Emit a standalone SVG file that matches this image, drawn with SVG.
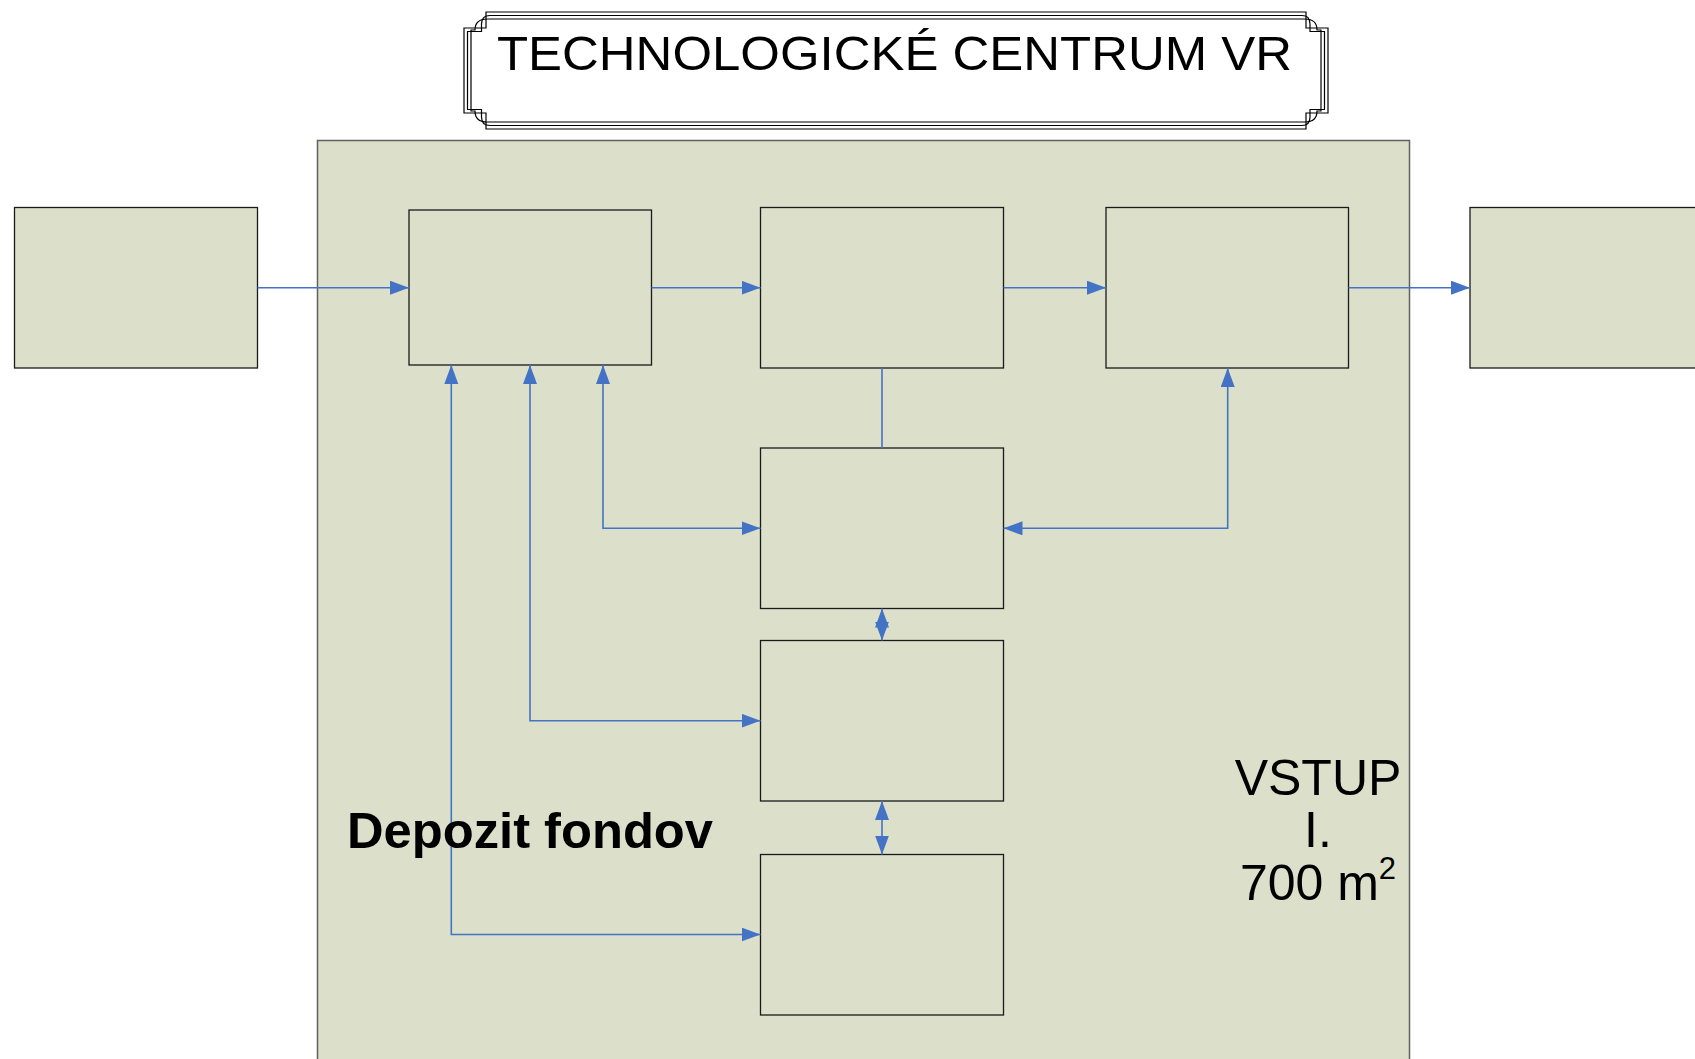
<svg xmlns="http://www.w3.org/2000/svg" width="1695" height="1059" viewBox="0 0 1695 1059">
  <style>
    .box { fill: #DCE0CA; stroke: #1a1a1a; stroke-width: 1.3; }
    .cont { fill: #DCE0CA; stroke: #606060; stroke-width: 1.5; }
    .con { fill: none; stroke: #4472C4; stroke-width: 1.6; }
    .frm { fill: none; stroke: #000; stroke-width: 1.2; }
    .t { font-family: "Liberation Sans", Arial, sans-serif; fill: #000; }
  </style>
  <defs>
    <marker id="ah" markerUnits="userSpaceOnUse" markerWidth="20" markerHeight="15" refX="19" refY="7" orient="auto-start-reverse" viewBox="0 0 20 15">
      <path d="M0,0 L19,7 L0,14 Z" fill="#4472C4"/>
    </marker>
  </defs>
  <rect width="1695" height="1059" fill="#ffffff"/>

  <g id="container">
    <rect class="cont" x="317.5" y="140.5" width="1092" height="940"/>
  </g>

  <g id="title">
    <path d="M486,12 H1306 V28 H1328 V113 H1306 V129 H486 V113 H464 V28 H486 Z" fill="#ffffff" stroke="none"/>
    <path class="frm" d="M486,12 H1306 V28 H1328 V113 H1306 V129 H486 V113 H464 V28 H486 Z"/>
    <path class="frm" d="M490,15.5 H1302 Q1310,15.5 1310,24 L1310,31.5 H1324.5 V109.5 H1310 V117 Q1310,125.5 1302,125.5 H490 Q481.5,125.5 481.5,117 V109.5 H467.5 V31.5 H481.5 V24 Q481.5,15.5 490,15.5 Z"/>
    <path class="frm" d="M487,19 H1305 Q1317,19 1317,30 L1321,30 V111 H1317 Q1317,122 1305,122 H487 Q475,122 475,111 H471 V30 H475 Q475,19 487,19 Z"/>
    <text class="t" x="497" y="70" font-size="49" textLength="795" lengthAdjust="spacingAndGlyphs">TECHNOLOGICKÉ CENTRUM VR</text>
  </g>

  <g id="boxL"><rect class="box" x="14.5" y="207.5" width="243" height="160.5"/></g>
  <g id="box1"><rect class="box" x="409" y="210" width="242.5" height="155"/></g>
  <g id="box2"><rect class="box" x="760.5" y="207.5" width="243" height="160.5"/></g>
  <g id="box3"><rect class="box" x="1106" y="207.5" width="242.5" height="160.5"/></g>
  <g id="boxR"><rect class="box" x="1470" y="207.5" width="240" height="160.5"/></g>
  <g id="box4"><rect class="box" x="760.5" y="448" width="243" height="160.5"/></g>
  <g id="box5"><rect class="box" x="760.5" y="640.5" width="243" height="160.5"/></g>
  <g id="box6"><rect class="box" x="760.5" y="854.5" width="243" height="160.5"/></g>

  <g id="connectors">
    <path class="con" d="M257.5,287.7 H409" marker-end="url(#ah)"/>
    <path class="con" d="M651.5,287.7 H760.5" marker-end="url(#ah)"/>
    <path class="con" d="M1003.5,287.7 H1106" marker-end="url(#ah)"/>
    <path class="con" d="M1348.5,287.7 H1470" marker-end="url(#ah)"/>
    <path class="con" d="M882,368 V448"/>
    <path class="con" d="M760.5,528.3 H603 V365" marker-start="url(#ah)" marker-end="url(#ah)"/>
    <path class="con" d="M1003.5,528.3 H1227.7 V368" marker-start="url(#ah)" marker-end="url(#ah)"/>
    <path class="con" d="M760.5,720.7 H530 V365" marker-start="url(#ah)" marker-end="url(#ah)"/>
    <path class="con" d="M760.5,934.5 H451.3 V365" marker-start="url(#ah)" marker-end="url(#ah)"/>
    <path class="con" d="M882,608.5 V640.5" marker-start="url(#ah)" marker-end="url(#ah)"/>
    <path class="con" d="M882,801 V854.5" marker-start="url(#ah)" marker-end="url(#ah)"/>
  </g>

  <g id="labels">
    <text class="t" x="347" y="848" font-size="50" font-weight="bold" textLength="366" lengthAdjust="spacingAndGlyphs">Depozit fondov</text>
    <text class="t" x="1318" y="795" font-size="50" text-anchor="middle">VSTUP</text>
    <text class="t" x="1318" y="847" font-size="50" text-anchor="middle">I.</text>
    <text class="t" x="1318" y="900" font-size="50" text-anchor="middle">700 m<tspan font-size="31" dy="-21">2</tspan></text>
  </g>
</svg>
